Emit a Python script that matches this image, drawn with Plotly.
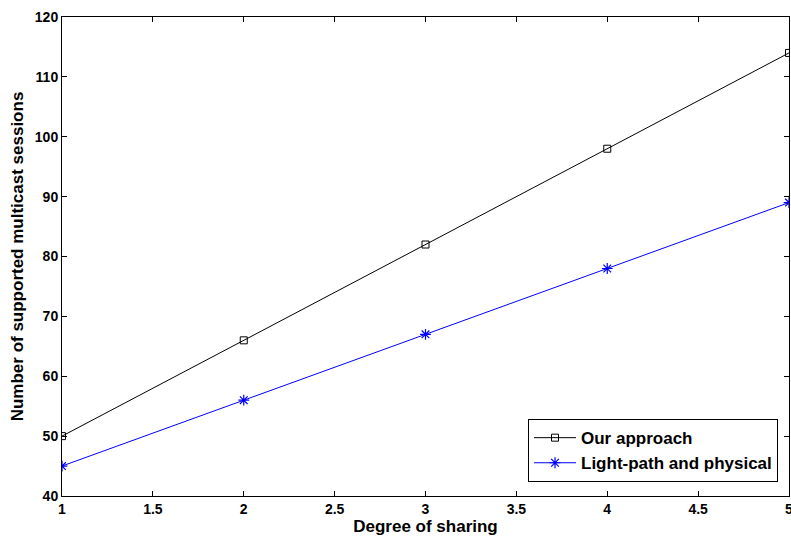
import plotly.graph_objects as go

x_vals = [1, 2, 3, 4, 5]
our_approach = [50, 66, 82, 98, 114]
light_path = [45, 56, 67, 78, 89]
x_ticks = [1, 1.5, 2, 2.5, 3, 3.5, 4, 4.5, 5]
x_tick_labels = ["1", "1.5", "2", "2.5", "3", "3.5", "4", "4.5", "5"]
y_ticks = [40, 50, 60, 70, 80, 90, 100, 110, 120]
y_tick_labels = ["40", "50", "60", "70", "80", "90", "100", "110", "120"]

def b(s):
    return "<b>" + s + "</b>"

fig = go.Figure()
fig.add_trace(go.Scatter(
    x=x_vals, y=our_approach, mode="lines+markers", name=b("Our approach"),
    line=dict(color="black", width=1),
    marker=dict(symbol="square-open", size=7, color="black", line=dict(width=1, color="black")),
))
fig.add_trace(go.Scatter(
    x=x_vals, y=light_path, mode="lines+markers", name=b("Light-path and physical"),
    line=dict(color="blue", width=1),
    marker=dict(symbol="asterisk-open", size=9, color="blue", line=dict(width=1.2, color="blue")),
))

axis_common = dict(
    showline=True, linecolor="black", linewidth=1, mirror="allticks",
    ticks="inside", ticklen=5, tickcolor="black", tickwidth=1,
    showgrid=False, zeroline=False, ticklabeloverflow="allow", automargin=False,
    tickfont=dict(family="Liberation Sans", size=14, color="black"),
)

fig.update_layout(
    width=791, height=540,
    margin=dict(l=62, r=2, t=17, b=44),
    paper_bgcolor="white", plot_bgcolor="white",
    font=dict(family="Liberation Sans", size=14, color="black"),
    xaxis=dict(range=[1, 5], tickvals=x_ticks, ticktext=[b(t) for t in x_tick_labels],
               title=dict(text=b("Degree of sharing"), standoff=4,
                          font=dict(family="Liberation Sans", size=17)),
               **axis_common),
    yaxis=dict(range=[40, 120], tickvals=y_ticks, ticktext=[b(t) for t in y_tick_labels],
               title=dict(text=b("Number of supported multicast sessions"), standoff=6,
                          font=dict(family="Liberation Sans", size=17)),
               **axis_common),
    legend=dict(x=0.641, y=0.029, xanchor="left", yanchor="bottom",
                bordercolor="black", borderwidth=1, bgcolor="white",
                font=dict(family="Liberation Sans", size=17),
                tracegroupgap=0, itemwidth=42),
    showlegend=True,
)

fig.write_html("out.html", config={"displayModeBar": False},
               post_script="document.body.style.margin='0';")
